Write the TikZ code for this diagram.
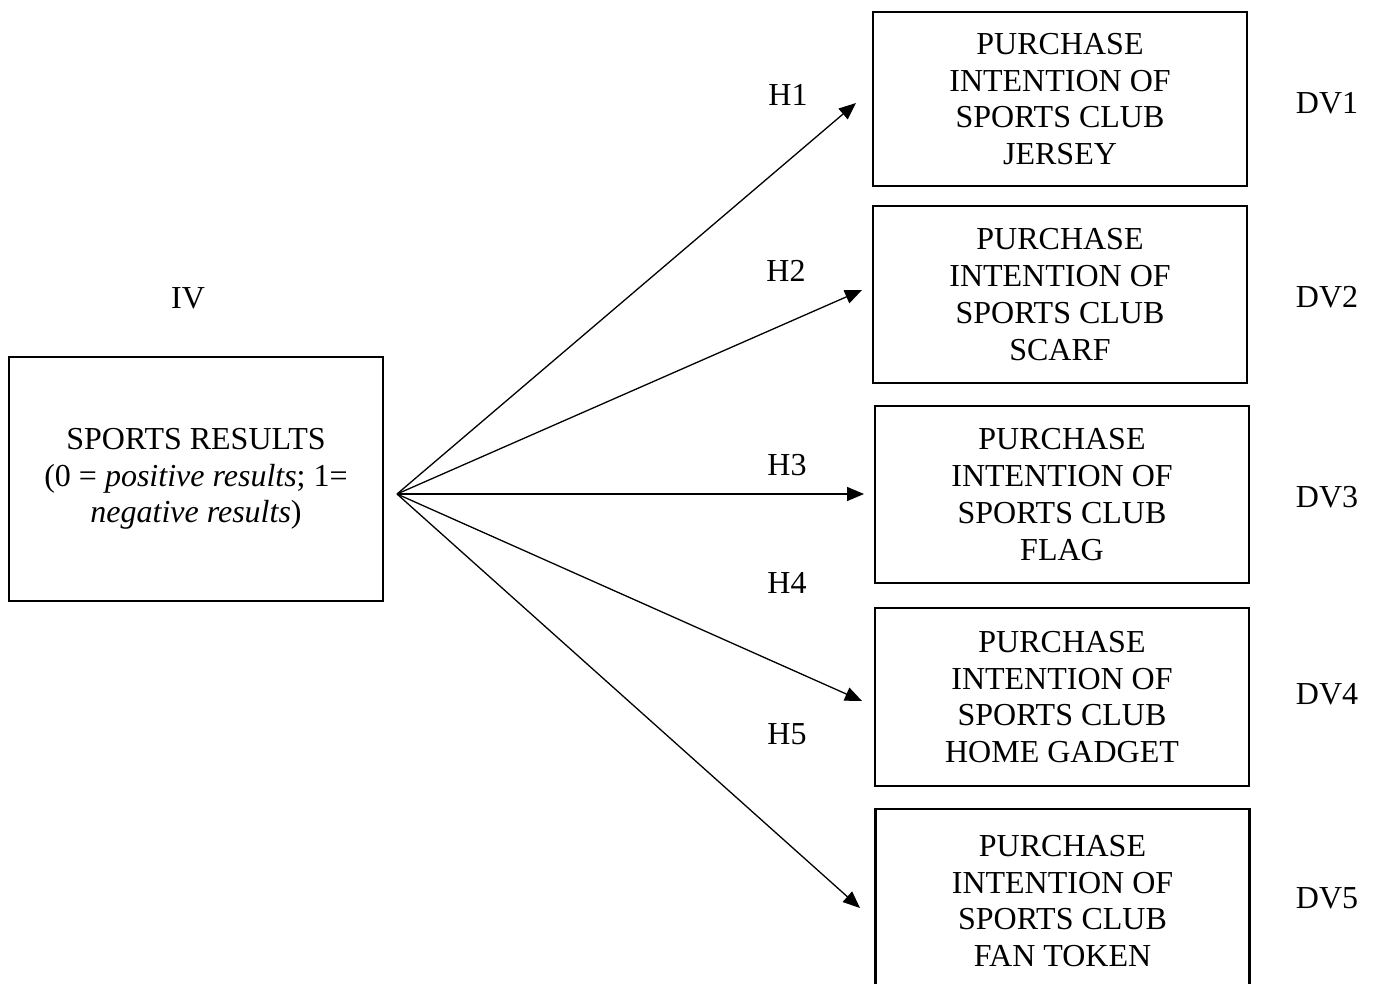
\documentclass[tikz,border=0pt]{standalone}
\usepackage{fontspec}
\setmainfont{Liberation Serif}
\usetikzlibrary{arrows.meta}
\begin{document}
\begin{tikzpicture}[x=0.5pt,y=-0.5pt,
  every node/.style={font=\fontsize{16pt}{18.4pt}\selectfont, inner sep=0pt},
  dvbox/.style={draw, line width=1.1pt, minimum width=187pt, align=center},
  ivbox/.style={draw, line width=1.1pt, minimum width=187pt, minimum height=122pt, align=center},
  lab/.style={},
  arr/.style={line width=0.65pt, -{Triangle[length=8.5pt,width=7pt]}}]
\clip (0,0) rectangle (1375,984);
\fill[white] (0,0) rectangle (1375,984);

\node[ivbox] (iv) at (196,479) {SPORTS RESULTS\\(0 = \textit{positive results}; 1=\\\textit{negative results})};
\node[lab] (ivl) at (188,298) {IV};

\node[dvbox, minimum height=87pt] (b1) at (1060,99) {PURCHASE\\INTENTION OF\\SPORTS CLUB\\JERSEY};
\node[dvbox, minimum height=88.5pt] (b2) at (1060,294.5) {PURCHASE\\INTENTION OF\\SPORTS CLUB\\SCARF};
\node[dvbox, minimum height=88.5pt] (b3) at (1062,494.5) {PURCHASE\\INTENTION OF\\SPORTS CLUB\\FLAG};
\node[dvbox, minimum height=89pt] (b4) at (1062,697) {PURCHASE\\INTENTION OF\\SPORTS CLUB\\HOME GADGET};
\node[dvbox, minimum height=92pt] (b5) at (1062.5,901) {PURCHASE\\INTENTION OF\\SPORTS CLUB\\FAN TOKEN};

\node[lab] (d1) at (1327,103) {DV1};
\node[lab] (d2) at (1327,297) {DV2};
\node[lab] (d3) at (1327,497) {DV3};
\node[lab] (d4) at (1327,694) {DV4};
\node[lab] (d5) at (1327,898) {DV5};

\node[lab] (h1) at (788,95) {H1};
\node[lab] (h2) at (786,271) {H2};
\node[lab] (h3) at (787,465) {H3};
\node[lab] (h4) at (787,583) {H4};
\node[lab] (h5) at (787,734) {H5};

\coordinate (o) at (397,494);
\coordinate (t1) at (856,103);
\coordinate (t2) at (862,290);
\coordinate (t3) at (864,494);
\coordinate (t4) at (862,701);
\coordinate (t5) at (860,908);

\draw[arr] (o) -- (t1);
\draw[arr] (o) -- (t2);
\draw[arr] (o) -- (t3);
\draw[arr] (o) -- (t4);
\draw[arr] (o) -- (t5);
\end{tikzpicture}
\end{document}
